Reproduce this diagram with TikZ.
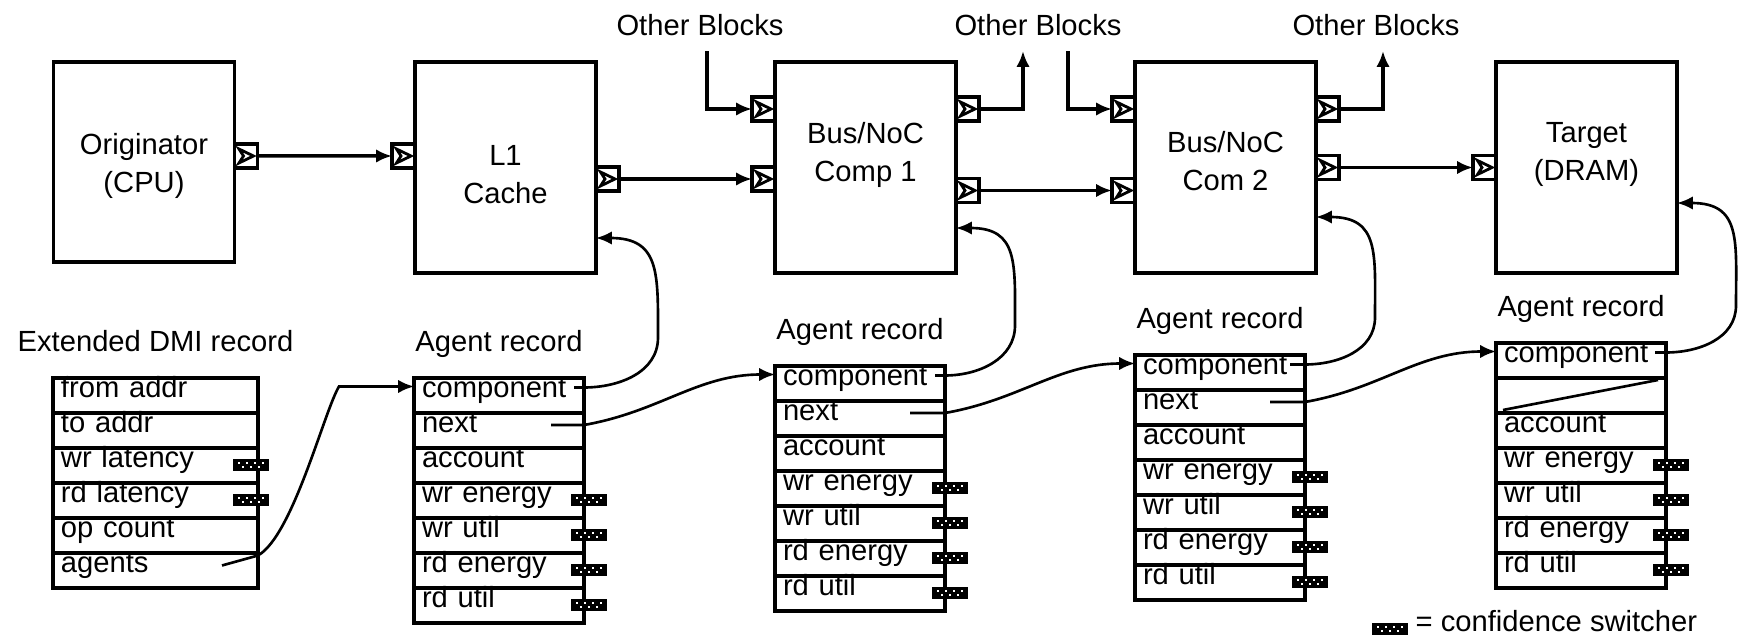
\documentclass[tikz,border=0pt]{standalone}
\usepackage{fontspec}
\setmainfont{Liberation Sans}
\usepackage{tikz}
\usetikzlibrary{positioning, arrows.meta}

\begin{document}
\begin{tikzpicture}[
    every node/.style={font=\fontsize{8.3}{10.8}\selectfont},
    block/.style={rectangle, draw, line width=1pt, outer sep=0pt,
                  minimum width=1.81cm, minimum height=2.11cm},
    blocktext/.style={align=center, inner sep=0pt},
    port/.style={rectangle, draw, line width=1pt, fill=white, outer sep=0pt,
                 minimum width=0.23cm, minimum height=0.24cm, inner sep=0pt,
                 path picture={\draw[line width=0.8pt]
                   ([shift={(0.045,-0.05)}]path picture bounding box.north west)
                   -- ([xshift=-0.04cm]path picture bounding box.east)
                   -- ([shift={(0.045,0.05)}]path picture bounding box.south west)
                   -- ([xshift=0.09cm]path picture bounding box.west) -- cycle;}},
    field/.style={rectangle, draw, line width=1pt, outer sep=0pt,
                  text width=1.54cm, inner xsep=0.08cm, inner ysep=0pt,
                  text height=0.20cm, text depth=0.15cm, align=left},
    dmifield/.style={field, text width=1.89cm},
    conf/.style={rectangle, fill=black, minimum width=0.36cm, minimum height=0.12cm,
                 inner sep=0pt,
                 path picture={
                   \foreach \dx in {-0.13,-0.05,0.03,0.11}
                     \fill[white] ([shift={(\dx,0.01)}]path picture bounding box.center) rectangle +(0.02,0.02);
                   \foreach \dx in {-0.09,-0.01,0.07}
                     \fill[white] ([shift={(\dx,-0.03)}]path picture bounding box.center) rectangle +(0.02,0.02);}},
    reclabel/.style={anchor=base, inner sep=0pt},
    other/.style={anchor=base, inner sep=4pt},
    wire/.style={-{Latex[length=4.5pt,width=3.8pt]}, line width=1pt},
    link/.style={-{Latex[length=4.5pt,width=3.8pt]}, line width=0.75pt}
  ]
  \useasboundingbox (0,0) rectangle (17.52,-6.36);

  % blocks
  \node[block, minimum height=2.00cm] (orig) at (1.44,-1.62) {};
  \node[block] (l1)   at (5.055,-1.675)  {};
  \node[block] (bus1) at (8.655,-1.675)  {};
  \node[block] (bus2) at (12.255,-1.675) {};
  \node[block] (tgt)  at (15.865,-1.675) {};
  \node[blocktext] (orig-txt) at ([yshift=-0.035cm]orig) {Originator\\(CPU)};
  \node[blocktext] (l1-txt)   at ([yshift=-0.07cm]l1)    {L1\\Cache};
  \node[blocktext] (bus1-txt) at ([yshift=0.13cm]bus1)   {Bus/NoC\\Comp 1};
  \node[blocktext] (bus2-txt) at ([yshift=0.06cm]bus2)   {Bus/NoC\\Com 2};
  \node[blocktext] (tgt-txt)  at ([yshift=0.13cm]tgt)    {Target\\(DRAM)};

  % ports
  \node[port, anchor=west] (orig-out) at ([yshift=0.06cm]orig.east) {};
  \node[port, anchor=east] (l1-in)    at ([yshift=0.115cm]l1.west) {};
  \node[port, anchor=west] (l1-out)   at ([yshift=-0.115cm]l1.east) {};
  \node[port, anchor=east] (b1-in1)   at ([yshift=0.585cm]bus1.west) {};
  \node[port, anchor=east] (b1-in2)   at ([yshift=-0.115cm]bus1.west) {};
  \node[port, anchor=west] (b1-out1)  at ([yshift=0.585cm]bus1.east) {};
  \node[port, anchor=west] (b1-out2)  at ([yshift=-0.23cm]bus1.east) {};
  \node[port, anchor=east] (b2-in1)   at ([yshift=0.585cm]bus2.west) {};
  \node[port, anchor=east] (b2-in2)   at ([yshift=-0.23cm]bus2.west) {};
  \node[port, anchor=west] (b2-out1)  at ([yshift=0.585cm]bus2.east) {};
  \node[port, anchor=west] (b2-out2)  at (bus2.east) {};
  \node[port, anchor=east] (tgt-in)   at (tgt.west) {};

  \node[other] (ob1) at (7.00,-0.36)  {Other Blocks};
  \node[other] (ob2) at (10.38,-0.36) {Other Blocks};
  \node[other] (ob3) at (13.76,-0.36) {Other Blocks};

  \draw[wire] (orig-out) -- (l1-in);
  \draw[wire] (l1-out) -- (b1-in2);
  \draw[wire] ([xshift=0.07cm]ob1.south) |- (b1-in1);
  \draw[wire] (b1-out1) -| ([xshift=-0.15cm]ob2.south);
  \draw[wire] (b1-out2) -- (b2-in2);
  \draw[wire] ([xshift=0.30cm]ob2.south) |- (b2-in1);
  \draw[wire] (b2-out1) -| ([xshift=0.07cm]ob3.south);
  \draw[wire] (b2-out2) -- (tgt-in);

  % Extended DMI record
  \node[dmifield, anchor=north] (dmi-1) at (1.555,-3.78) {from addr};
  \node[dmifield, below=0pt of dmi-1] (dmi-2) {to addr};
  \node[dmifield, below=0pt of dmi-2] (dmi-3) {wr latency};
  \node[dmifield, below=0pt of dmi-3] (dmi-4) {rd latency};
  \node[dmifield, below=0pt of dmi-4] (dmi-5) {op count};
  \node[dmifield, below=0pt of dmi-5] (dmi-6) {agents};
  \node[above=0.26cm of dmi-1, reclabel] (dmi-lbl) {Extended DMI record};
  \node[conf] (dmi-sw3) at ([xshift=-0.07cm]dmi-3.east) {};
  \node[conf] (dmi-sw4) at ([xshift=-0.07cm]dmi-4.east) {};

  % agent record of the cache
  \node[field, anchor=north] (r1-1) at (4.99,-3.78) {component};
  \node[field, below=0pt of r1-1] (r1-2) {next};
  \node[field, below=0pt of r1-2] (r1-3) {account};
  \node[field, below=0pt of r1-3] (r1-4) {wr energy};
  \node[field, below=0pt of r1-4] (r1-5) {wr util};
  \node[field, below=0pt of r1-5] (r1-6) {rd energy};
  \node[field, below=0pt of r1-6] (r1-7) {rd util};
  \node[above=0.26cm of r1-1, reclabel] (r1-lbl) {Agent record};
  \node[conf] (r1-sw4) at ([xshift=0.05cm]r1-4.east) {};
  \node[conf] (r1-sw5) at ([xshift=0.05cm]r1-5.east) {};
  \node[conf] (r1-sw6) at ([xshift=0.05cm]r1-6.east) {};
  \node[conf] (r1-sw7) at ([xshift=0.05cm]r1-7.east) {};

  % agent record of bus 1
  \node[field, anchor=north] (r2-1) at (8.60,-3.66) {component};
  \node[field, below=0pt of r2-1] (r2-2) {next};
  \node[field, below=0pt of r2-2] (r2-3) {account};
  \node[field, below=0pt of r2-3] (r2-4) {wr energy};
  \node[field, below=0pt of r2-4] (r2-5) {wr util};
  \node[field, below=0pt of r2-5] (r2-6) {rd energy};
  \node[field, below=0pt of r2-6] (r2-7) {rd util};
  \node[above=0.26cm of r2-1, reclabel] (r2-lbl) {Agent record};
  \node[conf] (r2-sw4) at ([xshift=0.05cm]r2-4.east) {};
  \node[conf] (r2-sw5) at ([xshift=0.05cm]r2-5.east) {};
  \node[conf] (r2-sw6) at ([xshift=0.05cm]r2-6.east) {};
  \node[conf] (r2-sw7) at ([xshift=0.05cm]r2-7.east) {};

  % agent record of bus 2
  \node[field, anchor=north] (r3-1) at (12.20,-3.55) {component};
  \node[field, below=0pt of r3-1] (r3-2) {next};
  \node[field, below=0pt of r3-2] (r3-3) {account};
  \node[field, below=0pt of r3-3] (r3-4) {wr energy};
  \node[field, below=0pt of r3-4] (r3-5) {wr util};
  \node[field, below=0pt of r3-5] (r3-6) {rd energy};
  \node[field, below=0pt of r3-6] (r3-7) {rd util};
  \node[above=0.26cm of r3-1, reclabel] (r3-lbl) {Agent record};
  \node[conf] (r3-sw4) at ([xshift=0.05cm]r3-4.east) {};
  \node[conf] (r3-sw5) at ([xshift=0.05cm]r3-5.east) {};
  \node[conf] (r3-sw6) at ([xshift=0.05cm]r3-6.east) {};
  \node[conf] (r3-sw7) at ([xshift=0.05cm]r3-7.east) {};

  % agent record of the target
  \node[field, anchor=north] (r4-1) at (15.81,-3.43) {component};
  \node[field, below=0pt of r4-1] (r4-2) {};
  \node[field, below=0pt of r4-2] (r4-3) {account};
  \node[field, below=0pt of r4-3] (r4-4) {wr energy};
  \node[field, below=0pt of r4-4] (r4-5) {wr util};
  \node[field, below=0pt of r4-5] (r4-6) {rd energy};
  \node[field, below=0pt of r4-6] (r4-7) {rd util};
  \node[above=0.26cm of r4-1, reclabel] (r4-lbl) {Agent record};
  \node[conf] (r4-sw4) at ([xshift=0.05cm]r4-4.east) {};
  \node[conf] (r4-sw5) at ([xshift=0.05cm]r4-5.east) {};
  \node[conf] (r4-sw6) at ([xshift=0.05cm]r4-6.east) {};
  \node[conf] (r4-sw7) at ([xshift=0.05cm]r4-7.east) {};
  \draw[line width=0.75pt] ([shift={(0.07,-0.145)}]r4-2.west) -- ([shift={(-0.08,0.155)}]r4-2.east);

  % pointers
  \coordinate (l1-back)  at ([yshift=-0.705cm]l1.east);
  \coordinate (b1-back)  at ([yshift=-0.605cm]bus1.east);
  \coordinate (b2-back)  at ([yshift=-0.495cm]bus2.east);
  \coordinate (tgt-back) at ([yshift=-0.355cm]tgt.east);

  \draw[link] ([shift={(-0.36,0.05)}]dmi-6.east) -- ([yshift=0.15cm]dmi-6.east)
        .. controls +(0.35,0.2) and +(-0.15,-0.25) .. ([xshift=-0.75cm,yshift=0.09cm]r1-1.west)
        -- ([yshift=0.09cm]r1-1.west);
  \draw[link] ([shift={(-0.1,0.08)}]r1-1.east) -- ([yshift=0.08cm]r1-1.east)
        to[out=0,in=-90] +(0.74,0.5) to[out=90,in=0,looseness=1.4] (l1-back);
  \draw[link] ([shift={(-0.33,0.055)}]r1-2.east) -- ([yshift=0.055cm]r1-2.east)
        to[out=10,in=180] ([yshift=0.09cm]r2-1.west);
  \draw[link] ([shift={(-0.1,0.08)}]r2-1.east) -- ([yshift=0.08cm]r2-1.east)
        to[out=0,in=-90] +(0.70,0.5) to[out=90,in=0,looseness=1.4] (b1-back);
  \draw[link] ([shift={(-0.35,0.055)}]r2-2.east) -- ([yshift=0.055cm]r2-2.east)
        to[out=10,in=180] ([yshift=0.09cm]r3-1.west);
  \draw[link] ([shift={(-0.15,0.08)}]r3-1.east) -- ([yshift=0.08cm]r3-1.east)
        to[out=0,in=-90] +(0.70,0.47) to[out=90,in=0,looseness=1.4] (b2-back);
  \draw[link] ([shift={(-0.35,0.055)}]r3-2.east) -- ([yshift=0.055cm]r3-2.east)
        to[out=10,in=180] ([yshift=0.09cm]r4-1.west);
  \draw[link] ([shift={(-0.11,0.08)}]r4-1.east) -- ([yshift=0.08cm]r4-1.east)
        to[out=0,in=-90] +(0.70,0.47) to[out=90,in=0,looseness=1.4] (tgt-back);

  % legend
  \node[conf] (leg-sw) at (13.90,-6.29) {};
  \node[anchor=base west, inner sep=0pt] (leg) at (14.15,-6.32) {= confidence switcher};
\end{tikzpicture}
\end{document}
